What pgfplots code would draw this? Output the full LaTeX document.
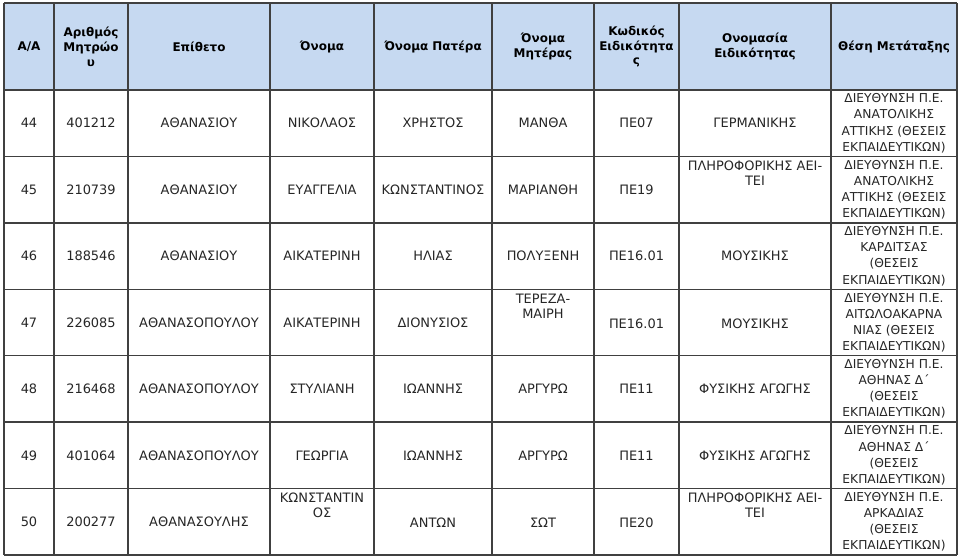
\documentclass[border=0pt]{standalone}
\usepackage{pgfplots}
\pgfplotsset{compat=1.18}
\usepackage{fontspec}
\setmainfont{DejaVu Sans}

\definecolor{headfill}{HTML}{C6D9F1}
\definecolor{rule}{HTML}{404040}

\tikzset{
  cell/.style={font=\fontsize{13}{15}\selectfont, text=black!85, align=center, inner sep=0pt},
  last/.style={font=\fontsize{12.3}{16.2}\selectfont, text=black!85, align=center, inner sep=0pt},
  head/.style={font=\bfseries\fontsize{12}{15}\selectfont, align=center, inner sep=0pt},
}

\begin{document}
\begin{tikzpicture}
\begin{axis}[
    width=960bp, height=556bp, scale only axis,
    xmin=0, xmax=960, ymin=0, ymax=556, y dir=reverse,
    axis lines=none, clip=false,
]
\fill[white] (axis cs:0,0) rectangle (axis cs:960,556);
\fill[headfill] (axis cs:4,3) rectangle (axis cs:957,90);

% grid: column borders and row borders, in pixels of the 960x556 picture
\pgfplotsinvokeforeach{4,54,128,270,374,492,594,679,831,957}{
  \draw[rule, line width=1.3bp] (axis cs:#1,3) -- (axis cs:#1,555);
}
\pgfplotsinvokeforeach{3,90,156.4,222.9,289.3,355.7,422.1,488.6,555}{
  \draw[rule, line width=1.3bp] (axis cs:4,#1) -- (axis cs:957,#1);
}

% header
\node[head] at (axis cs:29,46.5)  {Α/Α};
\node[head] at (axis cs:91,46.5)  {Αριθμός\\Μητρώο\\υ};
\node[head] at (axis cs:199,46.5) {Επίθετο};
\node[head] at (axis cs:322,46.5) {Όνομα};
\node[head] at (axis cs:433,46.5) {Όνομα Πατέρα};
\node[head] at (axis cs:543,46.5) {Όνομα\\Μητέρας};
\node[head] at (axis cs:636.5,46.5) {Κωδικός\\Ειδικότητα\\ς};
\node[head] at (axis cs:755,46.5) {Ονομασία\\Ειδικότητας};
\node[head] at (axis cs:894,46.5) {Θέση Μετάταξης};

% row 44
\node[cell] at (axis cs:29,123.2)  {44};
\node[cell] at (axis cs:91,123.2)  {401212};
\node[cell] at (axis cs:199,123.2) {ΑΘΑΝΑΣΙΟΥ};
\node[cell] at (axis cs:322,123.2) {ΝΙΚΟΛΑΟΣ};
\node[cell] at (axis cs:433,123.2) {ΧΡΗΣΤΟΣ};
\node[cell] at (axis cs:543,123.2) {ΜΑΝΘΑ};
\node[cell] at (axis cs:636.5,123.2) {ΠΕ07};
\node[cell] at (axis cs:755,123.2) {ΓΕΡΜΑΝΙΚΗΣ};
\node[last] at (axis cs:894,123.2) {ΔΙΕΥΘΥΝΣΗ Π.Ε.\\ΑΝΑΤΟΛΙΚΗΣ\\ΑΤΤΙΚΗΣ (ΘΕΣΕΙΣ\\ΕΚΠΑΙΔΕΥΤΙΚΩΝ)};

% row 45
\node[cell] at (axis cs:29,189.6)  {45};
\node[cell] at (axis cs:91,189.6)  {210739};
\node[cell] at (axis cs:199,189.6) {ΑΘΑΝΑΣΙΟΥ};
\node[cell] at (axis cs:322,189.6) {ΕΥΑΓΓΕΛΙΑ};
\node[cell] at (axis cs:433,189.6) {ΚΩΝΣΤΑΝΤΙΝΟΣ};
\node[cell] at (axis cs:543,189.6) {ΜΑΡΙΑΝΘΗ};
\node[cell] at (axis cs:636.5,189.6) {ΠΕ19};
\node[cell, anchor=north] at (axis cs:755,161) {ΠΛΗΡΟΦΟΡΙΚΗΣ ΑΕΙ-\\ΤΕΙ};
\node[last] at (axis cs:894,189.6) {ΔΙΕΥΘΥΝΣΗ Π.Ε.\\ΑΝΑΤΟΛΙΚΗΣ\\ΑΤΤΙΚΗΣ (ΘΕΣΕΙΣ\\ΕΚΠΑΙΔΕΥΤΙΚΩΝ)};

% row 46
\node[cell] at (axis cs:29,256.1)  {46};
\node[cell] at (axis cs:91,256.1)  {188546};
\node[cell] at (axis cs:199,256.1) {ΑΘΑΝΑΣΙΟΥ};
\node[cell] at (axis cs:322,256.1) {ΑΙΚΑΤΕΡΙΝΗ};
\node[cell] at (axis cs:433,256.1) {ΗΛΙΑΣ};
\node[cell] at (axis cs:543,256.1) {ΠΟΛΥΞΕΝΗ};
\node[cell] at (axis cs:636.5,256.1) {ΠΕ16.01};
\node[cell] at (axis cs:755,256.1) {ΜΟΥΣΙΚΗΣ};
\node[last] at (axis cs:894,256.1) {ΔΙΕΥΘΥΝΣΗ Π.Ε.\\ΚΑΡΔΙΤΣΑΣ\\(ΘΕΣΕΙΣ\\ΕΚΠΑΙΔΕΥΤΙΚΩΝ)};

% row 47
\node[cell] at (axis cs:29,322.5)  {47};
\node[cell] at (axis cs:91,322.5)  {226085};
\node[cell] at (axis cs:199,322.5) {ΑΘΑΝΑΣΟΠΟΥΛΟΥ};
\node[cell] at (axis cs:322,322.5) {ΑΙΚΑΤΕΡΙΝΗ};
\node[cell] at (axis cs:433,322.5) {ΔΙΟΝΥΣΙΟΣ};
\node[cell, anchor=north] at (axis cs:543,294) {ΤΕΡΕΖΑ-\\ΜΑΙΡΗ};
\node[cell] at (axis cs:636.5,324) {ΠΕ16.01};
\node[cell] at (axis cs:755,324) {ΜΟΥΣΙΚΗΣ};
\node[last] at (axis cs:894,322.5) {ΔΙΕΥΘΥΝΣΗ Π.Ε.\\ΑΙΤΩΛΟΑΚΑΡΝΑ\\ΝΙΑΣ (ΘΕΣΕΙΣ\\ΕΚΠΑΙΔΕΥΤΙΚΩΝ)};

% row 48
\node[cell] at (axis cs:29,388.9)  {48};
\node[cell] at (axis cs:91,388.9)  {216468};
\node[cell] at (axis cs:199,388.9) {ΑΘΑΝΑΣΟΠΟΥΛΟΥ};
\node[cell] at (axis cs:322,388.9) {ΣΤΥΛΙΑΝΗ};
\node[cell] at (axis cs:433,388.9) {ΙΩΑΝΝΗΣ};
\node[cell] at (axis cs:543,388.9) {ΑΡΓΥΡΩ};
\node[cell] at (axis cs:636.5,388.9) {ΠΕ11};
\node[cell] at (axis cs:755,388.9) {ΦΥΣΙΚΗΣ ΑΓΩΓΗΣ};
\node[last] at (axis cs:894,388.9) {ΔΙΕΥΘΥΝΣΗ Π.Ε.\\ΑΘΗΝΑΣ Δ΄\\(ΘΕΣΕΙΣ\\ΕΚΠΑΙΔΕΥΤΙΚΩΝ)};

% row 49
\node[cell] at (axis cs:29,455.4)  {49};
\node[cell] at (axis cs:91,455.4)  {401064};
\node[cell] at (axis cs:199,455.4) {ΑΘΑΝΑΣΟΠΟΥΛΟΥ};
\node[cell] at (axis cs:322,455.4) {ΓΕΩΡΓΙΑ};
\node[cell] at (axis cs:433,455.4) {ΙΩΑΝΝΗΣ};
\node[cell] at (axis cs:543,455.4) {ΑΡΓΥΡΩ};
\node[cell] at (axis cs:636.5,455.4) {ΠΕ11};
\node[cell] at (axis cs:755,455.4) {ΦΥΣΙΚΗΣ ΑΓΩΓΗΣ};
\node[last] at (axis cs:894,455.4) {ΔΙΕΥΘΥΝΣΗ Π.Ε.\\ΑΘΗΝΑΣ Δ΄\\(ΘΕΣΕΙΣ\\ΕΚΠΑΙΔΕΥΤΙΚΩΝ)};

% row 50
\node[cell] at (axis cs:29,521.8)  {50};
\node[cell] at (axis cs:91,521.8)  {200277};
\node[cell] at (axis cs:199,521.8) {ΑΘΑΝΑΣΟΥΛΗΣ};
\node[cell, anchor=north] at (axis cs:322,493) {ΚΩΝΣΤΑΝΤΙΝ\\ΟΣ};
\node[cell] at (axis cs:433,523) {ΑΝΤΩΝ};
\node[cell] at (axis cs:543,523) {ΣΩΤ};
\node[cell] at (axis cs:636.5,523) {ΠΕ20};
\node[cell, anchor=north] at (axis cs:755,493) {ΠΛΗΡΟΦΟΡΙΚΗΣ ΑΕΙ-\\ΤΕΙ};
\node[last] at (axis cs:894,521.8) {ΔΙΕΥΘΥΝΣΗ Π.Ε.\\ΑΡΚΑΔΙΑΣ\\(ΘΕΣΕΙΣ\\ΕΚΠΑΙΔΕΥΤΙΚΩΝ)};
\end{axis}
\end{tikzpicture}
\end{document}
